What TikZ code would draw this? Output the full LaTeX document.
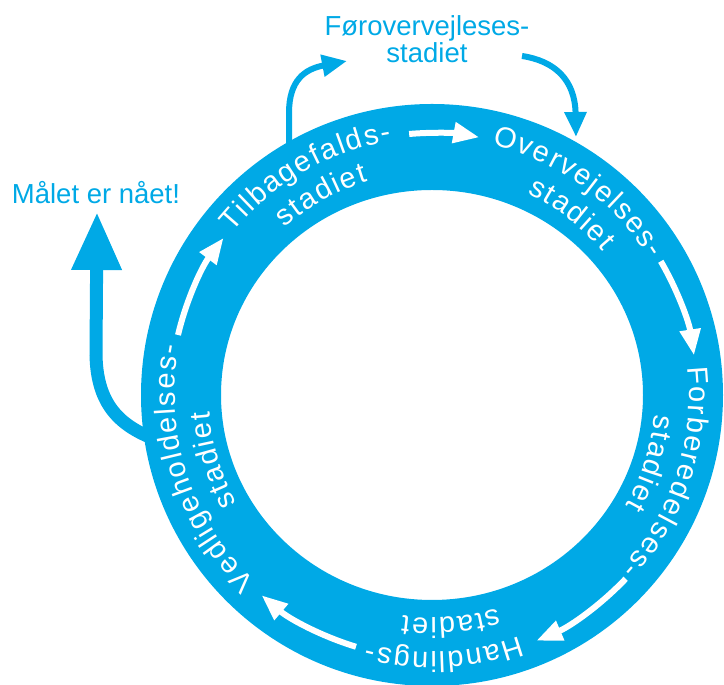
\documentclass[tikz,border=0pt]{standalone}
\usepackage{fontspec}
\setmainfont{Liberation Sans}
\newfontfamily\ringfont{Liberation Sans}
\usetikzlibrary{arrows.meta}
\definecolor{ringblue}{HTML}{00A9E6}
\newcommand\rkfontsel{\ringfont\fontsize{29}{29}\selectfont}
\tikzset{
  ringchar/.style={inner sep=0pt, anchor=base, text=white, font=\rkfontsel},
  wa/.style={draw=white, line width=6pt, -{Triangle[length=26pt,width=20pt]}},
  ba/.style={draw=ringblue, line width=6pt, -{Triangle[length=25pt,width=21pt]}},
  bigba/.style={draw=ringblue, line width=13pt, -{Triangle[length=58pt,width=47pt]}},
  bluetext/.style={text=ringblue, font=\fontsize{27.5}{27.5}\selectfont, inner sep=0pt, anchor=base}
}
\newcommand\rkplacechar[3]{\node[ringchar,rotate=#1-90] at (#1:#2) {#3};}
\ExplSyntaxOn
\fp_new:N \l__rk_tot_fp
\fp_new:N \l__rk_ang_fp
\fp_new:N \l__rk_w_fp
\box_new:N \l__rk_box
\tl_new:N \l__rk_out_tl
\cs_new_protected:Npn \rk_prep:Nnnnn #1#2#3#4#5
  {
    \fp_zero:N \l__rk_tot_fp
    \tl_clear:N \l__rk_out_tl
    \tl_map_inline:nn {#5}
      {
        \hbox_set:Nn \l__rk_box { \rkfontsel ##1 }
        \fp_add:Nn \l__rk_tot_fp { \dim_to_fp:n { \box_wd:N \l__rk_box } + (#4) }
      }
    \fp_sub:Nn \l__rk_tot_fp { #4 }
    \fp_set:Nn \l__rk_ang_fp { (#3) + (\l__rk_tot_fp / 2) / (#2) * 180 / pi }
    \tl_map_inline:nn {#5}
      {
        \hbox_set:Nn \l__rk_box { \rkfontsel ##1 }
        \fp_set:Nn \l__rk_w_fp { \dim_to_fp:n { \box_wd:N \l__rk_box } }
        \tl_put_right:Ne \l__rk_out_tl
          {
            \exp_not:N \rkplacechar
              { \fp_eval:n { round( \l__rk_ang_fp - (\l__rk_w_fp / 2) / (#2) * 180 / pi , 3) } }
              { #2 }
              { \exp_not:n { ##1 } }
          }
        \fp_sub:Nn \l__rk_ang_fp { (\l__rk_w_fp + (#4)) / (#2) * 180 / pi }
      }
    \tl_gclear_new:N #1
    \tl_gset_eq:NN #1 \l__rk_out_tl
  }
\NewDocumentCommand \arcprep { m m m m m } { \rk_prep:Nnnnn #1 {#2} {#3} {#4} {#5} }
\ExplSyntaxOff
\begin{document}
\arcprep\rkA{257}{120}{1.8}{Tilbagefalds-}%
\arcprep\rkB{223}{119}{1.8}{stadiet}%
\arcprep\rkC{257}{54.3}{1.8}{Overvejelses-}%
\arcprep\rkD{223}{52.4}{1.8}{stadiet}%
\arcprep\rkE{257}{-18.2}{1.8}{Forberedelses-}%
\arcprep\rkF{223}{-17.3}{1.8}{stadiet}%
\arcprep\rkG{257}{-87.3}{1.8}{Handlings-}%
\arcprep\rkH{223}{-85.2}{1.8}{stadiet}%
\arcprep\rkI{257}{197.8}{1.8}{Vedligeholdelses-}%
\arcprep\rkJ{223}{196.6}{1.8}{stadiet}%
\begin{tikzpicture}[x=1pt,y=1pt]
\useasboundingbox (0,0) rectangle (724,685);
% outer blue texts and arrows (drawn below the ring)
\node[bluetext] (pre1) at (427,649) {Førovervejleses-};
\node[bluetext] (pre2) at (427,622) {stadiet};
\node[bluetext] (goal) at (96,481) {Målet er nået!};
\coordinate (fs) at (289,540);
\coordinate (fe) at (347,624);
\draw[ba] (fs) -- (289,572) .. controls (289,605) and (305,616) .. (fe);
\coordinate (gs) at (522,629);
\coordinate (ge) at (576,548);
\draw[ba] (gs) .. controls (555,624) and (575,605) .. (ge);
\coordinate (hs) at (160,244);
\coordinate (he) at (97,473);
\draw[bigba] (hs) .. controls (120,258) and (97,280) .. (96,330) -- (he);
\begin{scope}[shift={(432,290)}]
\fill[ringblue, even odd rule] (0,0) circle[radius=291] (0,0) ellipse[x radius=211, y radius=205];
% white arrows
\coordinate (a1s) at (95:262);
\draw[wa] (a1s) arc[start angle=95, end angle=79.6, radius=262];
\coordinate (a2s) at (30.3:265);
\draw[wa] (a2s) arc[start angle=30.3, end angle=8.6, radius=265];
\coordinate (a3s) at (-43.5:267);
\draw[wa] (a3s) arc[start angle=-43.5, end angle=-67, radius=267];
\coordinate (a4s) at (-106.8:263);
\draw[wa] (a4s) arc[start angle=-106.8, end angle=-130.4, radius=263];
\coordinate (a5s) at (166.7:261);
\draw[wa] (a5s) arc[start angle=166.7, end angle=143, radius=261];
% ring labels
\rkA \rkB \rkC \rkD \rkE \rkF \rkG \rkH \rkI \rkJ
\end{scope}
\end{tikzpicture}
\end{document}
